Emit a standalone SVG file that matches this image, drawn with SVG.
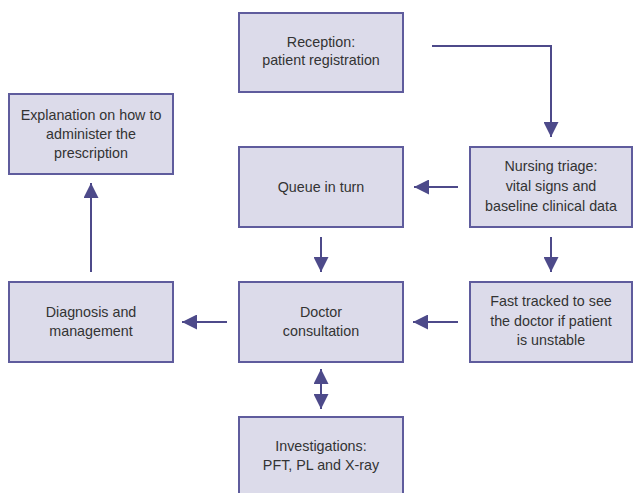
<svg xmlns="http://www.w3.org/2000/svg" width="633" height="493" viewBox="0 0 633 493">
<style>
.box{fill:#dcdbea;stroke:#5f5c9d;stroke-width:2}
.t{font-family:"Liberation Sans",Arial,sans-serif;font-size:14.3px;fill:#333;text-anchor:middle}
.c{fill:none;stroke:#4d4a8a;stroke-width:2}
.h{fill:#4d4a8a}
</style>
<defs>
<marker id="ah" viewBox="0 0 15 15" refX="15" refY="7.5" markerWidth="15" markerHeight="15" markerUnits="userSpaceOnUse" orient="auto-start-reverse">
<path class="h" d="M0,0 L15,7.5 L0,15 Z"/>
</marker>
</defs>
<rect width="633" height="493" fill="#fff"/>
<g id="reception"><rect class="box" x="239" y="13" width="164" height="79"/>
<text class="t" x="321" y="47">Reception:</text><text class="t" x="321" y="65">patient registration</text></g>
<g id="explanation"><rect class="box" x="9" y="94" width="164" height="80"/>
<text class="t" x="91" y="120">Explanation on how to</text><text class="t" x="91" y="139">administer the</text><text class="t" x="91" y="158">prescription</text></g>
<g id="queue"><rect class="box" x="239" y="147" width="164" height="80"/>
<text class="t" x="321" y="192">Queue in turn</text></g>
<g id="nursing"><rect class="box" x="470" y="147" width="162" height="80"/>
<text class="t" x="551" y="171">Nursing triage:</text><text class="t" x="551" y="191">vital signs and</text><text class="t" x="551" y="211">baseline clinical data</text></g>
<g id="diagnosis"><rect class="box" x="9" y="282" width="164" height="80"/>
<text class="t" x="91" y="317">Diagnosis and</text><text class="t" x="91" y="336">management</text></g>
<g id="doctor"><rect class="box" x="239" y="282" width="164" height="80"/>
<text class="t" x="321" y="317">Doctor</text><text class="t" x="321" y="336">consultation</text></g>
<g id="fasttrack"><rect class="box" x="470" y="282" width="162" height="80"/>
<text class="t" x="551" y="306">Fast tracked to see</text><text class="t" x="551" y="326">the doctor if patient</text><text class="t" x="551" y="345">is unstable</text></g>
<g id="investigations"><rect class="box" x="239" y="417" width="164" height="82"/>
<text class="t" x="321" y="451">Investigations:</text><text class="t" x="321" y="470">PFT, PL and X-ray</text></g>
<g id="connectors">
<path class="c" d="M432,46 H551 V137" marker-end="url(#ah)"/>
<path class="c" d="M458,187 H414" marker-end="url(#ah)"/>
<path class="c" d="M321,237 V272" marker-end="url(#ah)"/>
<path class="c" d="M551,237 V272" marker-end="url(#ah)"/>
<path class="c" d="M458,322 H413" marker-end="url(#ah)"/>
<path class="c" d="M227,322 H182" marker-end="url(#ah)"/>
<path class="c" d="M91,272 V183" marker-end="url(#ah)"/>
<path class="c" d="M321,369 V409" marker-start="url(#ah)" marker-end="url(#ah)"/>
</g>
</svg>
